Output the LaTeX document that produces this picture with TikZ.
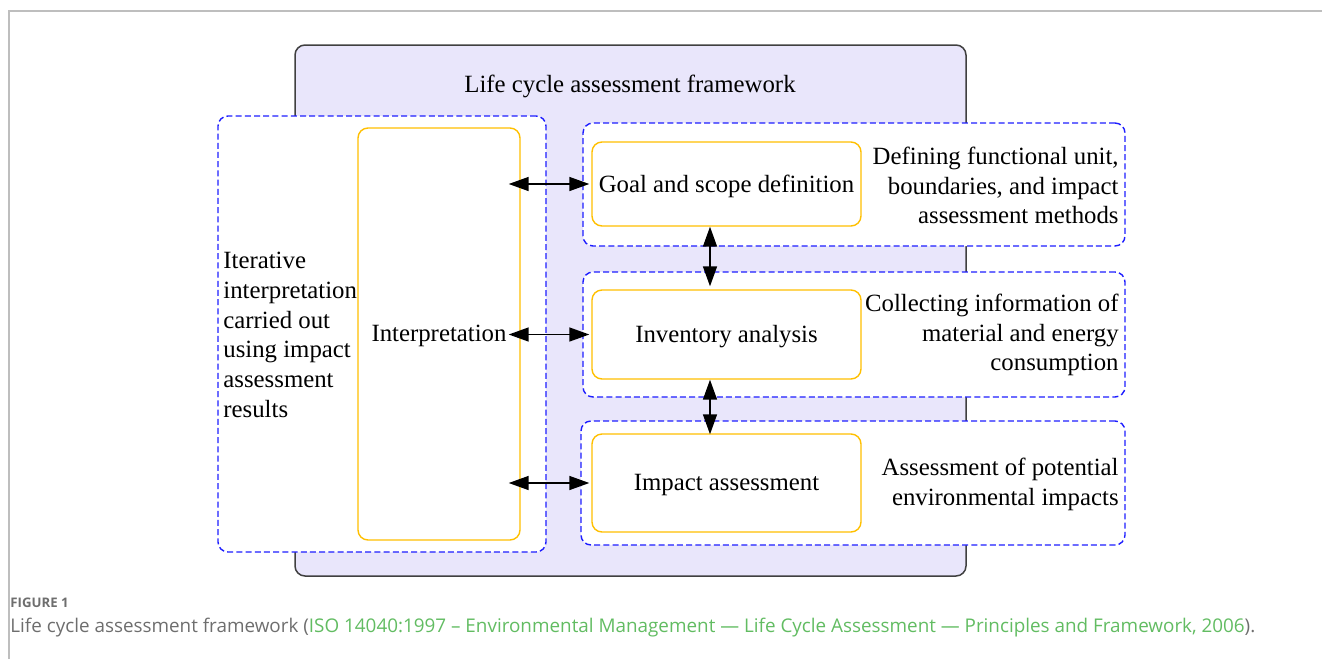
\documentclass[tikz,border=0pt]{standalone}
\usepackage{fontspec}
\setmainfont{Liberation Serif}
\newfontfamily\capfont{Open Sans}
\usepackage{tikz}
\usetikzlibrary{arrows.meta, positioning, calc}

\definecolor{lcaback}{RGB}{233,230,251}
\definecolor{lcayellow}{RGB}{255,192,0}
\definecolor{lcablue}{RGB}{30,30,255}
\definecolor{capgrey}{RGB}{110,110,110}
\definecolor{capgreen}{RGB}{98,188,98}
\definecolor{framegrey}{RGB}{190,190,190}

\tikzset{
  outerbox/.style={draw=black!75, line width=0.75pt, fill=lcaback, rounded corners=5pt},
  groupbox/.style={draw=lcablue, line width=0.7pt, dash pattern=on 3pt off 1.6pt, fill=white, rounded corners=5pt},
  phasebox/.style={draw=lcayellow, line width=0.7pt, fill=white, rounded corners=5pt},
  biarrow/.style={{Triangle[length=10pt,width=7pt]}-{Triangle[length=10pt,width=7pt]}, line width=0.75pt},
  lbl/.style={inner sep=0pt, font=\fontsize{12.4}{14.85}\selectfont}
}

\begin{document}
\begin{tikzpicture}[x=0.5pt, y=-0.5pt]
    \useasboundingbox (0,0) rectangle (1322,659);
    % page frame
    \draw[framegrey, line width=1pt] (9,659) -- (9,11) -- (1322,11);

    % framework background
    \node[outerbox, minimum width=335.5pt, minimum height=265.5pt] (frame) at (630.5,310.5) {};
    \node[lbl] (title) at (630,86) {Life cycle assessment framework};

    % dashed groups
    \node[groupbox, minimum width=164pt, minimum height=218pt] (gleft) at (382,334) {};
    \node[groupbox, minimum width=271pt, minimum height=61.5pt] (gone) at (854,184.5) {};
    \node[groupbox, minimum width=271pt, minimum height=62.5pt] (gtwo) at (854,334.5) {};
    \node[groupbox, minimum width=272pt, minimum height=62pt] (gthree) at (853,483) {};

    % phases
    \node[phasebox, minimum width=81pt, minimum height=206pt] (interp) at (439,334) {};
    \node[lbl] at ([yshift=-1pt]interp) {Interpretation};
    \node[phasebox, minimum width=134.5pt, minimum height=42pt] (goal) at (726.5,184) {};
    \node[lbl] at ([yshift=-1pt]goal) {Goal and scope definition};
    \node[phasebox, minimum width=134.5pt, minimum height=44.5pt] (inv) at (726.5,334.5) {};
    \node[lbl] at ([yshift=-1pt]inv) {Inventory analysis};
    \node[phasebox, minimum width=134.5pt, minimum height=49pt] (impact) at (726.5,483) {};
    \node[lbl] at ([yshift=-1pt]impact) {Impact assessment};

    % notes
    \node[lbl, align=left, anchor=west] (iter) at (223,335)
        {Iterative\\interpretation\\carried out\\using impact\\assessment\\results};
    \node[lbl, align=right, anchor=east] (note1) at (1119,185.5)
        {Defining functional unit,\\boundaries, and impact\\assessment methods};
    \node[lbl, align=right, anchor=east] (note2) at (1119,335)
        {Collecting information of\\material and energy\\consumption};
    \node[lbl, align=right, anchor=east] (note3) at (1119,484.5)
        {Assessment of potential\\environmental impacts};

    % links
    \draw[biarrow] ([xshift=-6pt]interp.east |- goal.west) -- ([xshift=-1pt]goal.west);
    \draw[biarrow] ([xshift=-6pt]interp.east |- inv.west) -- ([xshift=-1pt]inv.west);
    \draw[biarrow] ([xshift=-6pt]interp.east |- impact.west) -- ([xshift=-1pt]impact.west);
    \draw[biarrow] ([xshift=-8.25pt]goal.south) -- ([xshift=-8.25pt,yshift=1.5pt]inv.north);
    \draw[biarrow] ([xshift=-8.25pt]inv.south) -- ([xshift=-8.25pt,yshift=-0.5pt]impact.north);

    % caption
    \node[inner sep=0pt, anchor=west, text=capgrey, font=\capfont\bfseries\fontsize{6.6}{8}\selectfont] (fignum) at (10,603) {FIGURE 1};
    \node[inner sep=0pt, anchor=west, text=capgrey, font=\capfont\fontsize{9.43}{11}\selectfont] (caption) at (10,628)
        {Life cycle assessment framework (\textcolor{capgreen}{ISO 14040:1997 – Environmental Management — Life Cycle Assessment — Principles and Framework, 2006}).};
\end{tikzpicture}
\end{document}
